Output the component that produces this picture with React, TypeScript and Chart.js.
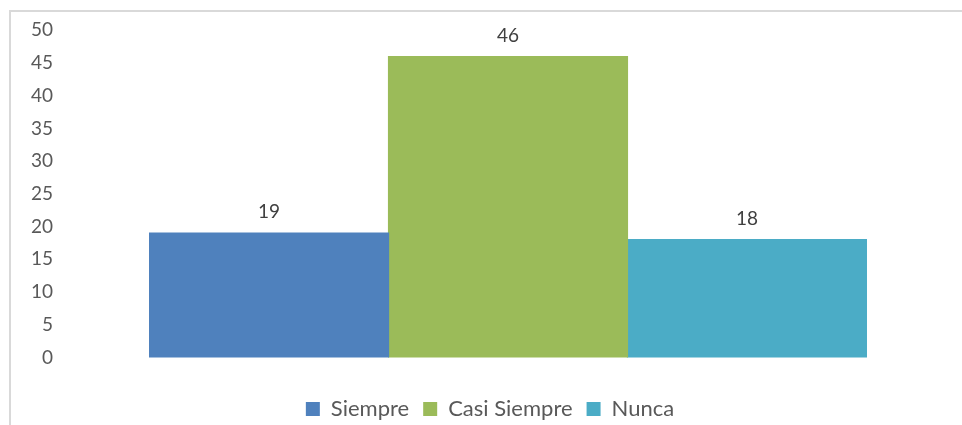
import React, { useEffect, useRef } from "react";
import { Chart, registerables } from "chart.js";

Chart.register(...registerables);

const categories = [""];
const seriesNames = ["Siempre", "Casi Siempre", "Nunca"];
const seriesValues = [19, 46, 18];
const seriesColors = ["#4F81BD", "#9BBB59", "#4BACC6"];
const yTicks = { min: 0, max: 50, step: 5 };

const FONT = "Lato, 'Open Sans', sans-serif";

const valueLabels = {
  id: "valueLabels",
  afterDatasetsDraw(chart: any) {
    const ctx = chart.ctx;
    ctx.save();
    ctx.font = `19px ${FONT}`;
    ctx.fillStyle = "#404040";
    ctx.textAlign = "center";
    ctx.textBaseline = "middle";
    chart.data.datasets.forEach((ds: any, i: number) => {
      const meta = chart.getDatasetMeta(i);
      meta.data.forEach((el: any, j: number) => {
        ctx.fillText(String(ds.data[j]), el.x, el.y - 21);
      });
    });
    ctx.restore();
  },
};

export default function App() {
  const ref = useRef<HTMLCanvasElement>(null);
  useEffect(() => {
    if (!ref.current) return;
    const chart = new Chart(ref.current, {
      type: "bar",
      data: {
        labels: categories,
        datasets: seriesNames.map((n, i) => ({
          label: n,
          data: [seriesValues[i]],
          backgroundColor: seriesColors[i],
          borderWidth: 0,
          inflateAmount: 0.6,
          categoryPercentage: 0.8,
          barPercentage: 1.0,
        })),
      },
      options: {
        animation: false,
        responsive: false,
        maintainAspectRatio: false,
        layout: { padding: { top: 30.3, right: 6, left: 24, bottom: -5 } },
        plugins: {
          tooltip: { enabled: false },
          legend: {
            position: "bottom",
            labels: {
              boxWidth: 14,
              boxHeight: 14,
              padding: 14,
              color: "#595959",
              font: { family: FONT, size: 22 },
            },
          },
        },
        scales: {
          x: {
            grid: { display: false, drawTicks: false },
            border: { display: false },
            ticks: { display: false },
            afterFit(scale: any) {
              scale.height = 26.5;
            },
          },
          y: {
            min: yTicks.min,
            max: yTicks.max,
            grid: { display: false, drawTicks: false },
            border: { display: false },
            ticks: {
              stepSize: yTicks.step,
              padding: 7,
              color: "#595959",
              font: { family: FONT, size: 19 },
            },
            afterFit(scale: any) {
              scale.width = 36;
            },
          },
        },
      },
      plugins: [valueLabels],
    });
    return () => chart.destroy();
  }, []);

  return (
    <div
      style={{
        position: "fixed",
        left: 0,
        top: 0,
        width: 962,
        height: 425,
        overflow: "hidden",
        background: "#ffffff",
      }}
    >
      <div
        style={{
          position: "absolute",
          left: 9,
          top: 10,
          width: 1000,
          height: 500,
          borderLeft: "2px solid #D9D9D9",
          borderTop: "2px solid #D9D9D9",
        }}
      />
      <canvas
        ref={ref}
        width={962}
        height={425}
        style={{ position: "absolute", left: 0, top: 0, width: 962, height: 425 }}
      />
    </div>
  );
}
